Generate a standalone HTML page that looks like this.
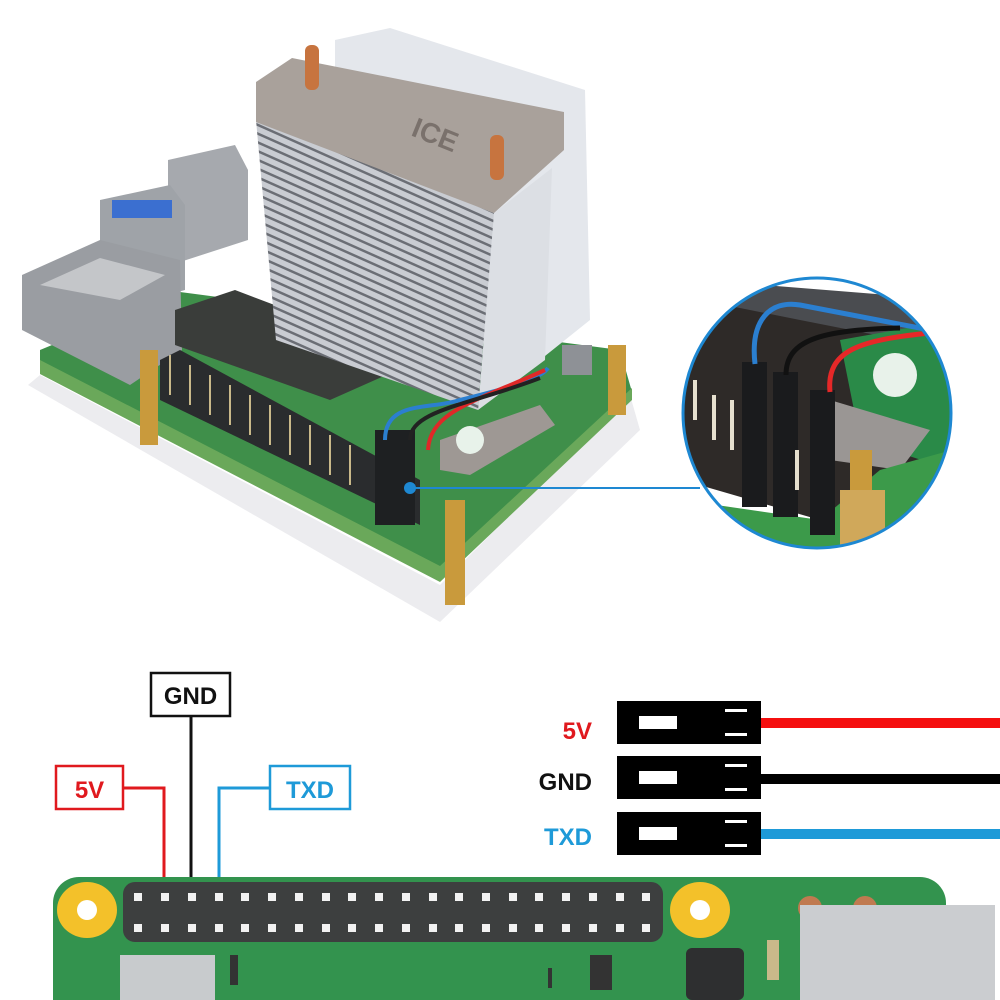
<!DOCTYPE html>
<html><head><meta charset="utf-8"><style>
html,body{margin:0;padding:0;background:#fff;width:1000px;height:1000px;overflow:hidden}
svg{display:block}
text{font-family:"Liberation Sans",sans-serif;font-weight:bold}
</style></head><body>
<svg width="1000" height="1000" viewBox="0 0 1000 1000" xmlns="http://www.w3.org/2000/svg">
<defs>
<pattern id="fins" width="8" height="8" patternUnits="userSpaceOnUse" patternTransform="rotate(24)">
<rect width="8" height="8" fill="#c9ccd2"/><rect width="8" height="2.5" fill="#6b6e75"/>
</pattern>
<clipPath id="circ"><ellipse cx="817" cy="413" rx="134" ry="135"/></clipPath>
</defs>
<rect width="1000" height="1000" fill="#fff"/>

<!-- acrylic base -->
<polygon points="28,385 440,622 640,430 630,395 440,585 40,375" fill="#ececef"/>
<!-- board -->
<polygon points="40,350 180,292 620,350 632,392 440,572 40,368" fill="#3f8f4a"/>
<polygon points="40,360 440,566 632,388 632,400 440,582 40,374" fill="#6aa85a"/>
<!-- fan -->
<polygon points="335,40 390,28 585,90 590,320 540,360 335,300" fill="#e4e7ec"/>
<!-- usb -->
<polygon points="168,160 235,145 248,170 248,240 180,262 168,230" fill="#a6a9ae"/>
<polygon points="100,200 170,185 185,205 185,290 112,310 100,270" fill="#9fa3a8"/>
<rect x="112" y="200" width="60" height="18" fill="#3b6fd0"/>
<!-- ethernet -->
<polygon points="22,275 100,240 180,260 182,350 130,385 22,330" fill="#9a9da2"/>
<polygon points="40,285 100,258 165,275 120,300" fill="#c4c6c9"/>
<!-- dark chip area -->
<polygon points="175,310 235,290 420,360 330,400 175,345" fill="#3a3d3a"/>
<!-- heatsink -->
<polygon points="494,213 552,168 545,360 478,410" fill="#dcdfe4"/>
<polygon points="256,120 494,213 478,410 276,340" fill="url(#fins)"/>
<polygon points="256,82 292,58 564,112 564,150 494,213 256,122" fill="#a9a19b"/>
<text x="410" y="135" font-size="28" fill="#7a716c" transform="rotate(22 410 135)">ICE</text>
<rect x="305" y="45" width="14" height="45" rx="6" fill="#c7743f"/>
<rect x="490" y="135" width="14" height="45" rx="6" fill="#c7743f"/>
<!-- gpio pins -->
<polygon points="160,360 180,350 420,480 420,525 160,400" fill="#2a2c2e"/>
<g stroke="#c9b98a" stroke-width="2">
<line x1="170" y1="355" x2="170" y2="395"/><line x1="190" y1="365" x2="190" y2="405"/><line x1="210" y1="375" x2="210" y2="415"/><line x1="230" y1="385" x2="230" y2="425"/><line x1="250" y1="395" x2="250" y2="435"/><line x1="270" y1="405" x2="270" y2="445"/><line x1="290" y1="415" x2="290" y2="455"/><line x1="310" y1="425" x2="310" y2="465"/><line x1="330" y1="435" x2="330" y2="475"/><line x1="350" y1="445" x2="350" y2="485"/>
</g>
<rect x="375" y="430" width="40" height="95" fill="#1e2022"/>
<path d="M385,440 C385,400 430,410 460,400 C500,390 540,380 548,368" stroke="#2b7fd0" stroke-width="4" fill="none"/>
<path d="M428,450 C430,410 480,400 545,370" stroke="#e02828" stroke-width="4" fill="none"/>
<path d="M410,440 C410,410 470,405 540,378" stroke="#222" stroke-width="4" fill="none"/>
<polygon points="440,440 540,405 555,425 470,475 440,470" fill="#9e9894"/>
<circle cx="470" cy="440" r="14" fill="#e8f2ea"/>
<!-- standoffs -->
<rect x="140" y="350" width="18" height="95" fill="#c99a3c"/>
<rect x="445" y="500" width="20" height="105" fill="#c99a3c"/>
<rect x="608" y="345" width="18" height="70" fill="#c99a3c"/>
<rect x="562" y="345" width="30" height="30" fill="#8e9196"/>
<!-- connector line -->
<line x1="410" y1="488" x2="700" y2="488" stroke="#1e88d2" stroke-width="2"/>
<circle cx="410" cy="488" r="6" fill="#1e88d2"/>

<!-- zoom circle -->
<g clip-path="url(#circ)">
<rect x="680" y="275" width="280" height="280" fill="#fff"/>
<polygon points="682,330 760,290 952,330 952,480 820,520 682,480" fill="#2e2a28"/>
<polygon points="700,280 952,300 952,350 800,320 700,300" fill="#4a4c50"/>
<polygon points="840,340 952,320 952,470 860,440" fill="#2a8a48"/>
<polygon points="830,400 930,430 900,470 830,460" fill="#9a9694"/>
<circle cx="895" cy="375" r="22" fill="#e8f2ea"/>
<polygon points="682,500 820,520 880,470 952,450 952,555 682,555" fill="#3c9a4a"/>
<rect x="742" y="362" width="25" height="145" fill="#1a1b1d"/>
<rect x="773" y="372" width="25" height="145" fill="#1a1b1d"/>
<rect x="810" y="390" width="25" height="145" fill="#1a1b1d"/>
<path d="M755,364 C750,320 770,300 800,305 L930,330" stroke="#2b7fd0" stroke-width="5" fill="none"/>
<path d="M786,375 C786,340 820,330 900,328" stroke="#111" stroke-width="5" fill="none"/>
<path d="M830,392 C826,350 860,340 930,333" stroke="#e62828" stroke-width="5" fill="none"/>
<g stroke="#e6e0cf" stroke-width="4"><line x1="695" y1="380" x2="695" y2="420"/><line x1="714" y1="395" x2="714" y2="440"/><line x1="732" y1="400" x2="732" y2="450"/><line x1="797" y1="450" x2="797" y2="490"/></g>
<rect x="850" y="450" width="22" height="50" fill="#c99a3c"/>
<rect x="840" y="490" width="45" height="60" fill="#d0a85a"/>
</g>
<ellipse cx="817" cy="413" rx="134" ry="135" fill="none" stroke="#1e88d2" stroke-width="3"/>

<!-- bottom diagram: labels -->
<rect x="151" y="673" width="79" height="43" fill="#fff" stroke="#111" stroke-width="2.5"/>
<text x="190.5" y="704" font-size="24" text-anchor="middle" fill="#111">GND</text>
<line x1="191" y1="716" x2="191" y2="897" stroke="#111" stroke-width="3"/>
<rect x="56" y="766" width="67" height="43" fill="#fff" stroke="#e0191e" stroke-width="2.5"/>
<text x="89.5" y="798" font-size="24" text-anchor="middle" fill="#e0191e">5V</text>
<polyline points="123,788 164,788 164,897" fill="none" stroke="#e0191e" stroke-width="3"/>
<rect x="270" y="766" width="80" height="43" fill="#fff" stroke="#1e9ad8" stroke-width="2.5"/>
<text x="310" y="798" font-size="24" text-anchor="middle" fill="#1e9ad8">TXD</text>
<polyline points="270,788 219,788 219,897" fill="none" stroke="#1e9ad8" stroke-width="3"/>

<!-- jumper connectors -->
<text x="592" y="739" font-size="24" text-anchor="end" fill="#e0191e">5V</text>
<text x="592" y="790" font-size="24" text-anchor="end" fill="#111">GND</text>
<text x="592" y="845" font-size="24" text-anchor="end" fill="#1e9ad8">TXD</text>
<rect x="760" y="718" width="240" height="10" fill="#f50f0f"/>
<rect x="760" y="774" width="240" height="10" fill="#000"/>
<rect x="760" y="829" width="240" height="10" fill="#1e9ad8"/>
<g fill="#000"><rect x="617" y="701" width="144" height="43"/><rect x="617" y="756" width="144" height="43"/><rect x="617" y="812" width="144" height="43"/></g>
<g fill="#fff">
<rect x="639" y="716" width="38" height="13"/><rect x="725" y="709" width="22" height="3"/><rect x="725" y="733" width="22" height="3"/>
<rect x="639" y="771" width="38" height="13"/><rect x="725" y="764" width="22" height="3"/><rect x="725" y="788" width="22" height="3"/>
<rect x="639" y="827" width="38" height="13"/><rect x="725" y="820" width="22" height="3"/><rect x="725" y="844" width="22" height="3"/>
</g>

<!-- pi board -->
<rect x="53" y="877" width="893" height="160" rx="26" fill="#33934e"/>
<rect x="800" y="905" width="195" height="95" fill="#c9cbce"/>
<circle cx="810" cy="908" r="12" fill="#c07a50"/><circle cx="865" cy="908" r="12" fill="#c07a50"/>
<rect x="800" y="905" width="195" height="95" fill="#cbcdd0"/>
<ellipse cx="87" cy="910" rx="30" ry="28" fill="#f3c12a"/><circle cx="87" cy="910" r="10" fill="#fff"/>
<ellipse cx="700" cy="910" rx="30" ry="28" fill="#f3c12a"/><circle cx="700" cy="910" r="10" fill="#fff"/>
<rect x="123" y="882" width="540" height="60" rx="12" fill="#3d3f3f"/>
<g fill="#f2f2f2" id="pins"></g>
<rect x="120" y="955" width="95" height="45" fill="#c8cbcd"/>
<rect x="686" y="948" width="58" height="52" rx="6" fill="#2e2f30"/>
<rect x="767" y="940" width="12" height="40" fill="#c9b98a"/>
<g fill="#333"><rect x="230" y="955" width="8" height="30"/><rect x="590" y="955" width="22" height="35"/><rect x="548" y="968" width="4" height="20"/></g>
<g fill="#f2f2f2">
<rect x="134" y="893" width="8" height="8"/><rect x="161" y="893" width="8" height="8"/><rect x="188" y="893" width="8" height="8"/><rect x="215" y="893" width="8" height="8"/><rect x="241" y="893" width="8" height="8"/><rect x="268" y="893" width="8" height="8"/><rect x="295" y="893" width="8" height="8"/><rect x="322" y="893" width="8" height="8"/><rect x="348" y="893" width="8" height="8"/><rect x="375" y="893" width="8" height="8"/><rect x="402" y="893" width="8" height="8"/><rect x="429" y="893" width="8" height="8"/><rect x="455" y="893" width="8" height="8"/><rect x="482" y="893" width="8" height="8"/><rect x="509" y="893" width="8" height="8"/><rect x="535" y="893" width="8" height="8"/><rect x="562" y="893" width="8" height="8"/><rect x="589" y="893" width="8" height="8"/><rect x="616" y="893" width="8" height="8"/><rect x="642" y="893" width="8" height="8"/>
<rect x="134" y="924" width="8" height="8"/><rect x="161" y="924" width="8" height="8"/><rect x="188" y="924" width="8" height="8"/><rect x="215" y="924" width="8" height="8"/><rect x="241" y="924" width="8" height="8"/><rect x="268" y="924" width="8" height="8"/><rect x="295" y="924" width="8" height="8"/><rect x="322" y="924" width="8" height="8"/><rect x="348" y="924" width="8" height="8"/><rect x="375" y="924" width="8" height="8"/><rect x="402" y="924" width="8" height="8"/><rect x="429" y="924" width="8" height="8"/><rect x="455" y="924" width="8" height="8"/><rect x="482" y="924" width="8" height="8"/><rect x="509" y="924" width="8" height="8"/><rect x="535" y="924" width="8" height="8"/><rect x="562" y="924" width="8" height="8"/><rect x="589" y="924" width="8" height="8"/><rect x="616" y="924" width="8" height="8"/><rect x="642" y="924" width="8" height="8"/>
</g>
</svg>
</body></html>
